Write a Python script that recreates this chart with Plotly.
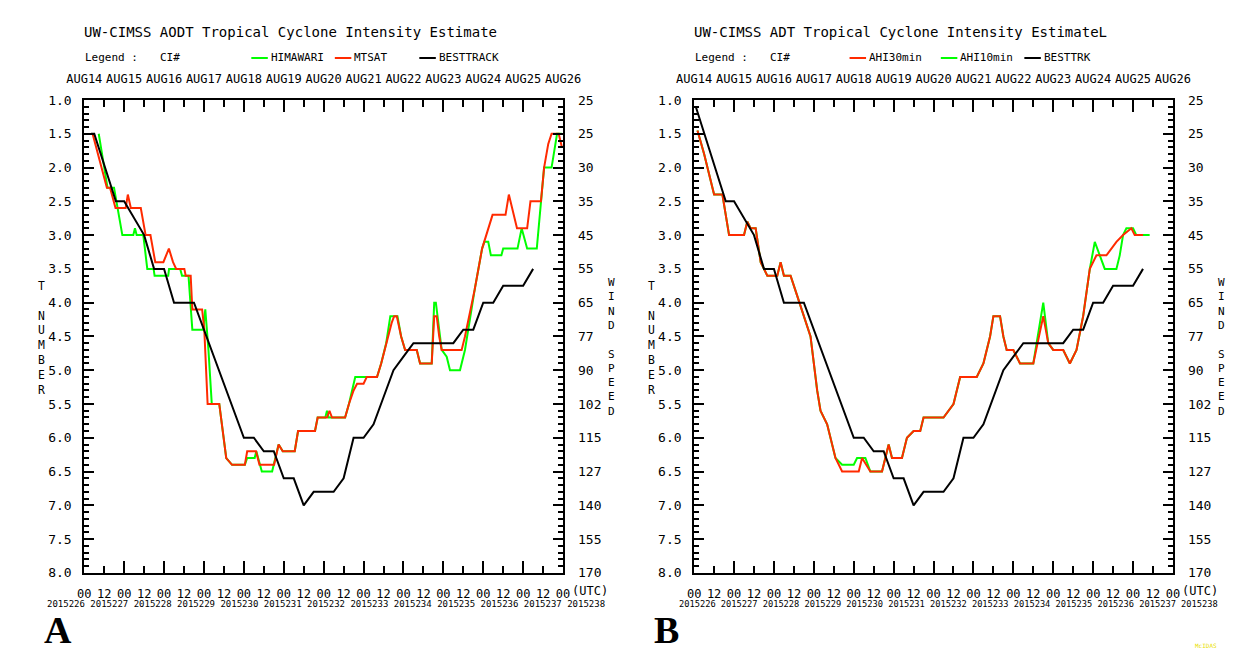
import plotly.graph_objects as go

W, H = 1248, 652

# ---------------- labels ----------------
day_labels = ["AUG14", "AUG15", "AUG16", "AUG17", "AUG18", "AUG19", "AUG20",
              "AUG21", "AUG22", "AUG23", "AUG24", "AUG25", "AUG26"]
day_hours = [0, 24, 48, 72, 96, 120, 144, 168, 192, 216, 240, 264, 288]
half_hours = [0, 12, 24, 36, 48, 60, 72, 84, 96, 108, 120, 132, 144, 156, 168,
              180, 192, 204, 216, 228, 240, 252, 264, 276, 288]
hour_labels = ["00", "12", "00", "12", "00", "12", "00", "12", "00", "12", "00", "12",
               "00", "12", "00", "12", "00", "12", "00", "12", "00", "12", "00", "12",
               "00"]
utc_label = "(UTC)"
date_labels = ["2015226", "2015227", "2015228", "2015229", "2015230", "2015231", "2015232",
               "2015233", "2015234", "2015235", "2015236", "2015237", "2015238"]
t_ticks = [1.0, 1.5, 2.0, 2.5, 3.0, 3.5, 4.0, 4.5, 5.0, 5.5, 6.0, 6.5, 7.0, 7.5, 8.0]
t_labels = ["1.0", "1.5", "2.0", "2.5", "3.0", "3.5", "4.0", "4.5", "5.0", "5.5",
            "6.0", "6.5", "7.0", "7.5", "8.0"]
wind_labels = ["25", "25", "30", "35", "45", "55", "65", "77", "90", "102", "115",
               "127", "140", "155", "170"]

# ---------------- data (hours since 2015-08-14 00 UTC, CI#) ----------------
# Panel A
a_best_h = [4, 6, 19, 24, 36, 42, 48, 54, 66, 96, 102, 108, 114, 120, 126, 132, 138,
            150, 156, 162, 168, 174, 180, 186, 192, 198, 222, 228, 234, 240, 246, 252,
            264, 270]
a_best_v = [1.5, 1.5, 2.5, 2.5, 3.0, 3.5, 3.5, 4.0, 4.0, 6.0, 6.0, 6.2, 6.2, 6.6, 6.6,
            7.0, 6.8, 6.8, 6.6, 6.0, 6.0, 5.8, 5.4, 5.0, 4.8, 4.6, 4.6, 4.4, 4.4, 4.0,
            4.0, 3.75, 3.75, 3.5]

a_mtsat_h = [5, 13.6, 15.5, 18.8, 24.9, 26.2, 28, 34, 36.9, 39.8, 42.7, 47.6, 50.9, 53.4,
             55.3, 60.2, 61, 64, 65, 70.9, 72.2, 74.2, 81.2, 85.4, 88.9, 96.6, 98, 103.3,
             105.4, 114.2, 116.9, 119.4, 126.6, 128.6, 138.8, 140.4, 146, 147.5, 149,
             156.9, 159.2, 162, 164.1, 168, 169.9, 176.1, 178.6, 180.6, 181.6, 184.9,
             186.4, 188, 190.6, 193, 200, 202, 209, 210.5, 212, 213.5, 215, 222, 227,
             229, 234.9, 239.3, 245.6, 253.4, 255.4, 260.3, 266.4, 268.4, 274.7, 276.6,
             279.1, 281.1, 285.4, 287.3]
a_mtsat_v = [1.5, 2.3, 2.3, 2.6, 2.6, 2.4, 2.6, 2.6, 3.0, 3.0, 3.4, 3.4, 3.2, 3.4,
             3.5, 3.5, 3.6, 3.6, 4.1, 4.1, 4.4, 5.5, 5.5, 6.3, 6.4, 6.4, 6.2, 6.2,
             6.4, 6.4, 6.1, 6.2, 6.2, 5.9, 5.9, 5.7, 5.7, 5.6, 5.7,
             5.7, 5.5, 5.3, 5.2, 5.2, 5.1, 5.1, 4.9, 4.7, 4.6, 4.3,
             4.2, 4.2, 4.5, 4.7, 4.7, 4.9, 4.9, 4.2, 4.2, 4.5, 4.7, 4.7, 4.7,
             4.5, 3.8, 3.2, 2.7, 2.7, 2.4, 2.9, 2.9, 2.5, 2.5, 2.0,
             1.65, 1.5, 1.5, 1.7]

a_hima_h = [8.7, 14, 17.9, 22.9, 29.5, 30.5, 31.5, 35.5, 37.9, 41.7, 42.3, 50.5, 51,
            57.7, 58.8, 62.7, 65, 71.5, 72.8, 74.7, 76.7, 81.2, 85.4, 88.9, 96.6, 98,
            102.5, 103.5, 106.8, 113, 116.9, 119.4, 126.6, 128.6, 138.8, 140.4, 145,
            146, 147, 156.9, 159.2, 162, 163, 168, 176.1, 178.6, 181.6, 184.1, 188.4,
            190.6, 193, 200, 202, 209, 210.5, 211.5, 213, 215, 218, 220, 226, 229,
            234.9, 239.3, 240.7, 243, 244.6, 250.9, 252, 260.6, 263.1, 266.4, 272.2,
            274.7, 276.6, 281.1, 284.4, 287.3]
a_hima_v = [1.5, 2.3, 2.3, 3.0, 3.0, 2.9, 3.0, 3.0, 3.5, 3.5, 3.6, 3.6, 3.5,
            3.5, 3.6, 3.6, 4.4, 4.4, 4.1, 4.7, 5.5, 5.5, 6.3, 6.4, 6.4, 6.3,
            6.3, 6.2, 6.5, 6.5, 6.1, 6.2, 6.2, 5.9, 5.9, 5.7, 5.7,
            5.6, 5.7, 5.7, 5.5, 5.2, 5.1, 5.1, 5.1, 4.9, 4.6, 4.2, 4.2,
            4.5, 4.7, 4.7, 4.9, 4.9, 4.0, 4.0, 4.3, 4.7, 4.8, 5.0, 5.0, 4.7,
            3.8, 3.2, 3.1, 3.1, 3.3, 3.3, 3.2, 3.2, 2.9, 3.2, 3.2,
            2.5, 2.0, 2.0, 1.5, 1.5]

# Panel B
b_best_h = [1, 19, 24, 36, 42, 48, 54, 66, 96, 102, 108, 114, 120, 126, 132, 138,
            150, 156, 162, 168, 174, 180, 186, 192, 198, 222, 228, 234, 240, 246, 252,
            264, 270]
b_best_v = [1.1, 2.5, 2.5, 3.0, 3.5, 3.5, 4.0, 4.0, 6.0, 6.0, 6.2, 6.2, 6.6, 6.6,
            7.0, 6.8, 6.8, 6.6, 6.0, 6.0, 5.8, 5.4, 5.0, 4.8, 4.6, 4.6, 4.4, 4.4, 4.0,
            4.0, 3.75, 3.75, 3.5]

b_ahi30_h = [2, 6, 12, 17, 21, 30, 32, 34, 37, 40, 42, 44, 50, 52, 54, 58, 62, 66,
             70, 74, 76, 80, 85, 89, 93, 99, 101, 106, 113, 117, 119, 125, 128, 132,
             136, 138, 150, 156, 160, 170, 174, 178, 180, 184, 186, 188, 192, 196, 204,
             210, 213, 216, 222, 226, 230, 234, 238, 242, 248, 251, 254, 258, 263, 265,
             270]
b_ahi30_v = [1.45, 1.8, 2.4, 2.4, 3.0, 3.0, 2.8, 2.9, 2.9, 3.4, 3.5, 3.6, 3.6, 3.4,
             3.6, 3.6, 3.9, 4.2, 4.5, 5.3, 5.6, 5.8, 6.3, 6.5, 6.5, 6.5, 6.3, 6.5,
             6.5, 6.1, 6.3, 6.3, 6.0, 5.9, 5.9, 5.7, 5.7, 5.5, 5.1, 5.1, 4.9, 4.5,
             4.2, 4.2, 4.5, 4.7, 4.7, 4.9, 4.9, 4.2, 4.6, 4.7, 4.7, 4.9, 4.7, 4.2,
             3.5, 3.3, 3.3, 3.2, 3.1, 3.0, 2.9, 3.0, 3.0]

b_ahi10_h = [2, 6, 12, 17, 21, 30, 32, 34, 37, 40, 42, 44, 50, 52, 54, 58, 62, 66,
             70, 74, 76, 80, 85, 89, 96, 98, 103, 106, 113, 117, 119, 125, 128, 132,
             136, 138, 150, 156, 160, 170, 174, 178, 180, 184, 186, 188, 192, 196, 204,
             210, 213, 216, 222, 226, 230, 234, 238, 241, 244, 247, 254, 256, 258, 260,
             264, 266, 274]
b_ahi10_v = [1.45, 1.8, 2.4, 2.4, 3.0, 3.0, 2.8, 2.9, 2.9, 3.4, 3.5, 3.6, 3.6, 3.4,
             3.6, 3.6, 3.9, 4.2, 4.5, 5.3, 5.6, 5.8, 6.3, 6.4, 6.4, 6.3, 6.3, 6.5,
             6.5, 6.1, 6.3, 6.3, 6.0, 5.9, 5.9, 5.7, 5.7, 5.5, 5.1, 5.1, 4.9, 4.5,
             4.2, 4.2, 4.5, 4.7, 4.7, 4.9, 4.9, 4.0, 4.6, 4.7, 4.7, 4.9, 4.7, 4.2,
             3.5, 3.1, 3.3, 3.5, 3.5, 3.3, 3.0, 2.9, 2.9, 3.0, 3.0]

GREEN = "#00ff00"
RED = "#ff2a00"
BLACK = "#000000"
MONO = "DejaVu Sans Mono"

fig = go.Figure()


def px_x(p):
    return p / W


def px_y(p):
    return 1 - p / H


PLOT_TOP, PLOT_BOT = 87, 571


def add_panel(n, left, right, series, title, legend, letter, date_left, date_size):
    xm, xl, xt = 3 * n + 1, 3 * n + 2, 3 * n + 3
    ym, yr = 2 * n + 1, 2 * n + 2

    def xid(k):
        return "x" if k == 1 else "x%d" % k

    def yid(k):
        return "y" if k == 1 else "y%d" % k

    def xkey(k):
        return "xaxis" if k == 1 else "xaxis%d" % k

    def ykey(k):
        return "yaxis" if k == 1 else "yaxis%d" % k

    dom_x = [px_x(left), px_x(right)]
    dom_y = [px_y(PLOT_BOT), px_y(PLOT_TOP)]

    for hs, vs, col in series:
        fig.add_trace(go.Scatter(x=hs, y=vs, mode="lines", xaxis=xid(xm), yaxis=yid(ym),
                                 line=dict(color=col, width=2), showlegend=False,
                                 hoverinfo="skip"))
    for xa, ya in [(xl, ym), (xt, ym), (xm, yr)]:
        fig.add_trace(go.Scatter(x=[None], y=[None], xaxis=xid(xa), yaxis=yid(ya),
                                 showlegend=False, hoverinfo="skip"))

    fig.layout[xkey(xm)] = dict(
        domain=dom_x, range=[0, 288], anchor=yid(ym), showgrid=False, zeroline=False,
        showline=True, linecolor="black", linewidth=2, mirror="ticks",
        ticks="inside", tickvals=day_hours, ticklen=12, tickwidth=2, tickcolor="black",
        showticklabels=False,
        minor=dict(tickvals=half_hours, ticklen=7, tickwidth=2, tickcolor="black",
                   ticks="inside", showgrid=False),
    )
    fig.layout[xkey(xl)] = dict(
        domain=dom_x, range=[0, 288], overlaying=xid(xm), anchor=yid(ym), side="bottom",
        showgrid=False, zeroline=False, showline=False, ticks="",
        tickvals=half_hours, ticktext=hour_labels, tickangle=0,
        tickfont=dict(family=MONO, size=12, color="black"), ticklabelstandoff=12,
    )
    fig.layout[xkey(xt)] = dict(
        domain=dom_x, range=[0, 288], overlaying=xid(xm), anchor=yid(ym), side="top",
        showgrid=False, zeroline=False, showline=False, ticks="",
        tickvals=day_hours, ticktext=day_labels, tickangle=0,
        tickfont=dict(family=MONO, size=12, color="black"), ticklabelstandoff=14,
    )
    fig.layout[ykey(ym)] = dict(
        domain=dom_y, range=[8, 1], anchor=xid(xm), showgrid=False, zeroline=False,
        showline=True, linecolor="black", linewidth=2, mirror="ticks",
        ticks="inside", tickvals=t_ticks, ticktext=t_labels, ticklen=10, tickwidth=2,
        tickcolor="black", tickfont=dict(family=MONO, size=13, color="black"),
        ticklabelstandoff=8,
        minor=dict(dtick=0.1, ticklen=5, tickwidth=2, tickcolor="black",
                   ticks="inside", showgrid=False),
    )
    fig.layout[ykey(yr)] = dict(
        domain=dom_y, range=[8, 1], overlaying=yid(ym), anchor=xid(xm), side="right",
        showgrid=False, zeroline=False, showline=False, ticks="",
        tickvals=t_ticks, ticktext=wind_labels,
        tickfont=dict(family=MONO, size=13, color="black"), ticklabelstandoff=14,
    )

    ann = []
    ann.append(dict(text=title, x=px_x(left - 2), y=px_y(17), xanchor="left",
                    yanchor="middle", font=dict(family=MONO, size=14, color="black")))
    ann.append(dict(text="Legend :", x=px_x(left - 1), y=px_y(44), xanchor="left",
                    yanchor="middle", font=dict(family=MONO, size=11, color="black")))
    ann.append(dict(text="CI#", x=px_x(left + 76), y=px_y(44), xanchor="left",
                    yanchor="middle", font=dict(family=MONO, size=11, color="black")))
    shapes = []
    for (x0, name, col) in legend:
        shapes.append(dict(type="line", xref="paper", yref="paper",
                           x0=px_x(left + x0), x1=px_x(left + x0 + 17),
                           y0=px_y(44), y1=px_y(44), line=dict(color=col, width=2)))
        ann.append(dict(text=name, x=px_x(left + x0 + 18), y=px_y(44), xanchor="left",
                        yanchor="middle", font=dict(family=MONO, size=11, color="black")))
    ann.append(dict(text="T<br><br>N<br>U<br>M<br>B<br>E<br>R", x=px_x(left - 44),
                    y=px_y(331), xanchor="center", yanchor="middle",
                    font=dict(family=MONO, size=11.4, color="black")))
    ann.append(dict(text="W<br>I<br>N<br>D<br><br>S<br>P<br>E<br>E<br>D",
                    x=px_x(right + 50), y=px_y(340), xanchor="center", yanchor="middle",
                    font=dict(family=MONO, size=11, color="black")))
    ann.append(dict(text=utc_label, x=px_x(right + 7), y=px_y(590), xanchor="left",
                    yanchor="middle", font=dict(family=MONO, size=12, color="black")))
    ann.append(dict(text="\u00a0".join(date_labels), x=px_x(date_left), y=px_y(603.3),
                    xanchor="left", yanchor="middle",
                    font=dict(family=MONO, size=date_size, color="black")))
    ann.append(dict(text="<b>%s</b>" % letter, x=px_x(left - 42), y=px_y(651.5),
                    xanchor="left", yanchor="bottom", borderpad=0,
                    font=dict(family="Liberation Serif", size=38, color="black")))
    for a in ann:
        fig.add_annotation(xref="paper", yref="paper", showarrow=False, **a)
    for s in shapes:
        fig.add_shape(**s)


add_panel(0, 60, 553,
          [(a_hima_h, a_hima_v, GREEN), (a_mtsat_h, a_mtsat_v, RED),
           (a_best_h, a_best_v, BLACK)],
          "UW-CIMSS AODT Tropical Cyclone Intensity Estimate",
          [(172, "HIMAWARI", GREEN), (258, "MTSAT", RED), (345, "BESTTRACK", BLACK)],
          "A", 20, 9.0)
add_panel(1, 688, 1181,
          [(b_ahi10_h, b_ahi10_v, GREEN), (b_ahi30_h, b_ahi30_v, RED),
           (b_best_h, b_best_v, BLACK)],
          "UW-CIMSS ADT Tropical Cyclone Intensity EstimateL",
          [(160, "AHI30min", RED), (254, "AHI10min", GREEN), (340, "BESTTRK", BLACK)],
          "B", 670, 8.7)

fig.add_annotation(xref="paper", yref="paper", text="McIDAS", x=px_x(1215), y=px_y(645),
                   xanchor="center", yanchor="middle", showarrow=False,
                   font=dict(family=MONO, size=6, color="#e8e000"))

fig.update_layout(width=W, height=H, margin=dict(l=0, r=0, t=0, b=0),
                  paper_bgcolor="white", plot_bgcolor="white", showlegend=False)

fig.write_html("out.html")
